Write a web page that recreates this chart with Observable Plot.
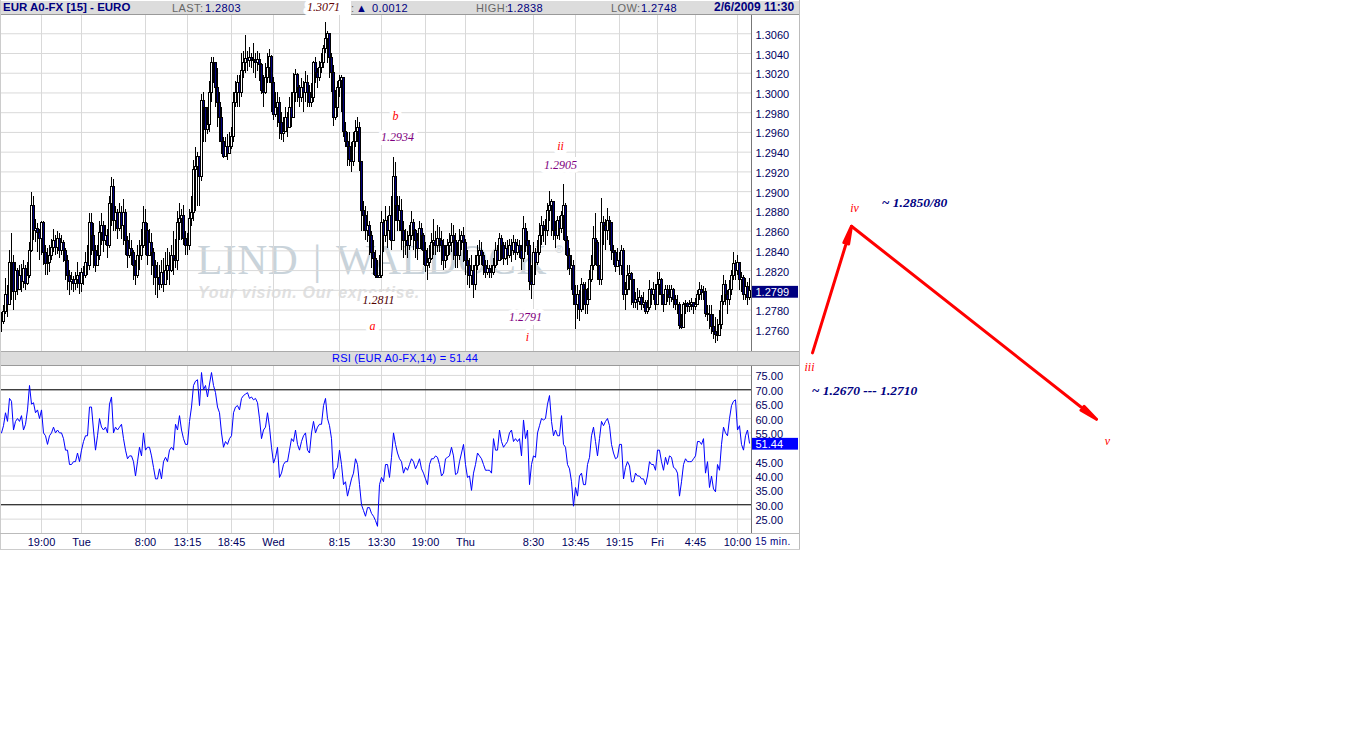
<!DOCTYPE html>
<html><head><meta charset="utf-8">
<script src="https://cdn.jsdelivr.net/npm/d3@7"></script>
<script src="https://cdn.jsdelivr.net/npm/@observablehq/plot@0.6"></script>
<style>
html,body{margin:0;padding:0;background:#fff;width:1346px;height:741px;overflow:hidden}
.a{position:absolute;white-space:nowrap;font-family:"Liberation Sans",Arial,sans-serif}
.band{position:absolute;left:1px;width:798px;background:#dcdcdc;border-bottom:1px solid #999}
.g{color:#666;font-size:11px;letter-spacing:.4px}.n{color:#000080;font-size:11px;letter-spacing:.4px}
.svgbox{position:absolute}
svg{background:transparent!important;display:block}
</style></head><body>
<div id="root"></div>
<script>
// Prices are pips above 1.2000 (803 = 1.2803); one candle per 15 minutes
const closePips=[768,778,795,785,828,828,798,820,800,815,
808,822,806,815,840,885,860,862,858,852,
868,838,827,828,835,843,850,843,852,840,
848,840,830,815,808,810,806,810,815,806,
818,815,828,825,868,855,840,825,835,858,
865,850,855,845,887,905,870,878,862,878,
865,878,850,835,842,838,825,815,835,835,
845,868,860,835,848,838,825,812,812,805,
818,805,820,825,820,835,832,830,868,872,
875,852,845,845,872,878,922,925,935,915,
992,985,962,968,1000,1030,1030,1005,990,975,
950,935,945,938,945,955,990,1000,1010,1000,
1022,1030,1034,1032,1035,1033,1032,1030,1033,1028,
1002,1000,1015,1025,1036,1010,978,985,990,970,
958,960,975,965,985,975,1000,1018,1005,995,
1005,1000,1010,1000,990,995,1030,1020,1015,1025,
1030,1045,1055,1060,1035,1020,975,985,1005,1012,
1015,960,950,945,932,930,950,960,965,930,
880,875,860,865,855,838,832,815,812,815,
868,855,870,860,875,850,915,885,870,880,
860,850,850,845,855,868,860,850,842,862,
855,840,825,828,832,848,850,845,852,850,
845,830,835,845,848,855,850,835,835,850,
855,848,830,825,815,820,805,825,835,840,
835,825,818,822,818,818,825,840,830,852,
845,832,842,835,845,840,848,838,845,840,
832,862,850,845,808,805,838,828,838,855,
865,862,860,880,885,890,860,855,870,862,
875,885,850,835,822,825,795,785,795,780,
805,800,785,790,810,825,852,848,825,810,
868,865,860,870,868,840,838,824,830,825,
840,795,800,815,817,810,787,790,788,792,
785,787,778,782,800,795,800,785,805,810,
795,785,800,795,792,800,790,785,785,764,
762,785,786,783,785,787,783,785,795,800,
797,798,776,775,775,763,758,755,754,765,
788,805,795,790,800,815,827,820,828,810,
812,795,803,792,799];
const highPips=[778,785,812,805,840,858,835,828,822,825,
826,830,825,828,848,899,895,872,868,862,
870,870,845,842,845,852,862,856,860,858,
856,850,842,835,820,818,814,818,828,818,
822,824,838,845,878,878,868,845,845,870,
878,870,866,862,895,914,912,885,882,888,
885,892,882,855,858,850,840,830,845,850,
862,885,882,868,862,858,842,830,828,825,
830,832,838,842,838,845,860,852,880,888,
882,886,860,858,882,895,932,945,940,935,
998,1000,985,985,1012,1036,1036,1030,1025,1000,
985,955,955,958,960,965,1000,1012,1018,1018,
1040,1042,1058,1042,1046,1040,1050,1040,1042,1040,
1030,1018,1030,1040,1044,1038,1016,1000,1000,995,
980,975,985,980,995,1000,1020,1024,1020,1008,
1015,1012,1022,1018,1008,1010,1032,1036,1025,1032,
1040,1048,1071,1062,1060,1040,1028,1002,1012,1018,
1018,1012,970,960,960,950,960,972,975,970,
930,890,885,880,870,860,850,840,830,835,
880,872,885,875,885,895,935,930,895,895,
892,870,862,860,866,880,872,862,858,870,
868,858,848,842,845,858,872,860,866,864,
860,852,845,852,858,868,866,858,848,862,
860,864,852,840,832,835,825,835,845,850,
848,838,830,830,825,825,832,848,845,858,
856,848,848,850,852,852,856,852,852,850,
845,875,868,860,850,825,848,842,850,868,
875,870,872,888,900,892,880,870,875,875,
880,907,888,855,842,835,830,805,805,800,
812,808,808,802,820,835,865,878,850,825,
893,875,872,883,875,868,845,840,842,838,
845,842,808,825,825,818,800,798,802,800,
795,798,790,790,810,802,808,806,818,818,
812,795,805,805,805,805,802,795,795,788,
775,788,790,788,790,792,788,792,800,808,
805,804,802,785,785,785,775,772,770,780,
795,815,810,800,810,820,838,830,835,825,
818,815,812,808,812];
const lowPips=[757,765,775,772,785,790,780,790,795,800,
798,802,800,805,812,838,850,848,838,830,
835,825,815,815,818,830,838,835,836,832,
835,828,810,800,795,800,798,800,802,796,
798,805,812,815,820,835,822,818,825,830,
845,838,845,832,842,865,860,860,852,860,
852,845,835,822,832,825,810,805,812,820,
830,842,835,825,835,815,805,795,792,800,
802,798,805,810,805,818,815,822,820,850,
850,845,835,835,840,865,870,880,885,885,
910,950,950,958,960,990,1010,985,965,950,
938,934,936,932,938,943,950,985,985,985,
995,1015,1020,1022,1026,1025,1020,1015,1022,1012,
998,985,998,1010,1010,980,972,975,965,953,
952,950,960,955,965,965,975,990,990,985,
990,980,990,985,985,985,990,1010,1005,1012,
1020,1025,1040,1030,1015,1000,966,972,975,995,
980,955,945,925,925,919,925,945,950,920,
860,860,850,848,835,822,815,812,812,812,
812,838,848,842,850,840,850,870,860,860,
840,832,835,832,840,850,840,832,830,842,
840,825,818,810,822,830,835,835,838,838,
825,820,822,830,835,838,830,822,822,830,
840,828,815,805,802,805,792,800,820,825,
825,815,812,815,812,812,815,822,825,830,
830,825,830,825,832,828,835,830,835,832,
820,828,838,835,800,791,815,815,825,835,
845,848,845,855,870,855,850,842,852,850,
858,850,835,820,815,800,785,760,770,768,
778,780,775,775,790,808,820,825,810,805,
805,845,840,850,845,830,825,818,825,815,
815,790,780,795,800,785,782,782,780,785,
780,782,775,776,780,785,790,780,785,795,
785,778,785,788,785,788,782,780,775,760,
760,762,775,778,778,780,776,780,785,790,
790,790,772,768,760,755,750,746,748,755,
760,785,785,775,785,795,810,810,815,800,
798,790,790,785,790];
const rsiValues=[55,57.5,62,59,67,66,56,59,60,59,
61,56,58,63,71.5,65,65.5,62,63,60,
63,55,54,51,54,55,57,55,56,55,
55,53,49,49,44,44,45,45,48,45,
49,52,54,54,64,64,56,49,54,60,
57,56,57,55,65,67.5,55,57,56,57,
58,53,49,46,47,47,45,40,45,50,
47,55,49,50,50,47,43,39,39,42.5,
39,45,46.5,45,49,50,49,58,56,61,
56,53,51,51,59,64,71.5,73,73.5,64.5,
76,70,71.5,67.5,72,76,71.5,69,64,62,
55,50,52,51,53,54,62,64,64.5,63,
67,68,68.5,69,67,67.5,66.5,67,65.5,60,
53,56,57,62,57,50,44.5,46.5,50,39.5,
41,44,45,45,49,53,52,56,51,49,
52,54,55,49,48,55,59,55,57,58,
58,64.5,67,60,57.5,53,39,42,43,49,
44,37,38,33,36,39,41,46,44,37,
30,28,26,29,29,27,26,24.5,22.5,37,
39.5,38,44,44,39.5,46.5,55,51,48,46,
45,41,43,42,44,46,45,42.5,44,46,
42.5,41,39,37,44,46,46,47,46.5,44,
40,41,46,46.5,47,50,47,40.5,41,45,
48,51,44,39.5,40,35,41,44,48,47,
46,44,42,42,42,41,53,49,49,56,
52,50,51,52,55,56,52,53,52,53,
47,59.5,53,56,37,44,47,46.5,55,57.5,
60,59.5,60,65,68,59,54,56,54,54,
61,51,50,44,42.5,38,29.5,36,33,40,
41,37,37,44,46.5,54,57,52,47,53,
59,57.5,59,60,57.5,51,48,46,46.5,51,
51,39,43,45,43.5,38,38,41,40,40,
39,39,37,40,45,44,44,42,49,49,
45,42,46.5,44,47,46.5,43,42.5,41,33,
38,44,46,45,45,45,46,47,52,52,
51,53,41,45,36,40,35.5,34.5,44,42,
51,57,55,54,60,64.5,66,66.5,56,57.5,
51,49,54,56,51.44];
const tickBars=[20.5,40.5,72.5,93.5,115.5,136.5,169.5,190.5,212.5,232.5,266.5,287.5,309.5,328.5,347.5,368.5];
const tickLabels=["19:00","Tue","8:00","13:15","18:45","Wed","8:15","13:30","19:00","Thu","8:30","13:45","19:15","Fri","4:45","10:00"];
const priceTicks=[1.276,1.278,1.28,1.282,1.284,1.286,1.288,1.29,1.292,1.294,1.296,1.298,1.3,1.302,1.304,1.306];
const priceLabelled=priceTicks.filter(t=>t!==1.28);
const rsiTicks=[25,30,35,40,45,50,55,60,65,70,75];
const rsiLabelled=rsiTicks.filter(t=>t!==50);
const rsiBands=[30,70];
const waveBars=[406,425.5,548];
const wavePrices=[1.27366,1.2865,1.26693];
const annotBar=[197.5,198.5,280,280,189,186,262.5,263.5,161.5,404.5,427,553.5,432,457];
const annotPrice=[1.2977,1.2955,1.2946,1.2927,1.2790,1.27635,1.27725,1.2753,1.3087,1.2722,1.2883,1.2647,1.26986,1.2889];
const annotText=["b","1.2934","ii","1.2905","1.2811","a","1.2791","i","1.3071","iii","iv","v","~ 1.2670 --- 1.2710","~ 1.2850/80"];
const annotColor=["#f00","#800080","#f00","#800080","#500000","#f00","#800080","#f00","#600000","#f00","#f00","#f00","#000080","#000080"];

const font='"Liberation Sans",Arial,sans-serif';
const serif='"Liberation Serif","Times New Roman",serif';
const root=document.getElementById("root");
function html(cls,css,text){const d=document.createElement("div");d.className=cls;d.style.cssText=css;d.textContent=text||"";root.appendChild(d);return d;}
function place(svg,top){const b=document.createElement("div");b.className="svgbox";b.style.left="0";b.style.top=top+"px";b.appendChild(svg);root.appendChild(b);}

// watermark sits beneath the chart
html("a","left:197px;top:236px;font:41.5px "+serif+";color:#c9d3da;letter-spacing:.5px;word-spacing:4px","LIND | WALDOCK");
html("a","left:555px;top:243px;font:11px "+font+";color:#c9d3da","®");
html("a","left:198px;top:284px;font:italic bold 16px "+font+";color:#e0e0e0;letter-spacing:.7px","Your vision. Our expertise.");

const bars=closePips.map((c,i)=>({i,open:1.2+(i?closePips[i-1]:c)/1e4,close:1.2+c/1e4,high:1.2+highPips[i]/1e4,low:1.2+lowPips[i]/1e4}));
const rsi=rsiValues.map((v,i)=>({i,v}));

const price=Plot.plot({width:800,height:336,marginLeft:0,marginRight:49,marginTop:0,marginBottom:0,
 x:{domain:[0,375.5],range:[0,751],axis:null},
 y:{domain:[1.2738,1.30785],range:[336,0]},
 style:{fontFamily:font,fontSize:"11px",color:"#000080"},
 marks:[
  Plot.ruleX(tickBars,{stroke:"#d9d9d9",strokeWidth:1}),
  Plot.ruleY(priceTicks,{x1:0.5,x2:375.5,stroke:"#d9d9d9",strokeWidth:1}),
  Plot.ruleX(bars,{x:d=>d.i+.5,y1:"low",y2:"high",stroke:"#000",strokeWidth:1,shapeRendering:"crispEdges"}),
  Plot.rect(bars,{x1:d=>d.i,x2:d=>d.i+1,y1:"open",y2:"close",fill:d=>d.close>=d.open?"#fff":"#000080",stroke:"#000",strokeWidth:1,shapeRendering:"crispEdges"}),
  Plot.ruleX([375.5],{stroke:"#777",strokeWidth:1}),
  Plot.axisY({anchor:"right",ticks:priceLabelled,tickSize:0,tickPadding:4,dy:1.5,tickFormat:".4f",label:null,fill:"#000060",fontSize:11}),
  Plot.rect([0],{x1:376,x2:399,y1:1.2792,y2:1.2804,fill:"#000080"}),
  Plot.text(["1.2799"],{x:377.5,y:1.2798,textAnchor:"start",fill:"#fff",fontSize:11})
 ]});

const rsiPlot=Plot.plot({width:800,height:184,marginLeft:0,marginRight:49,marginTop:0,marginBottom:16,
 x:{domain:[0,375.5],range:[0,751],axis:null},
 y:{domain:[20,78.45],range:[168,0]},
 style:{fontFamily:font,fontSize:"11px",color:"#000080"},
 marks:[
  Plot.ruleX(tickBars,{stroke:"#d9d9d9",strokeWidth:1}),
  Plot.ruleY(rsiTicks,{x1:0.5,x2:375.5,stroke:"#d9d9d9",strokeWidth:1}),
  Plot.ruleY(rsiBands,{x1:0.5,x2:375.5,stroke:"#000",strokeWidth:1}),
  Plot.line(rsi,{x:d=>d.i+.5,y:"v",stroke:"#0000ff",strokeWidth:1,curve:"linear"}),
  Plot.ruleX([375.5],{stroke:"#777",strokeWidth:1}),
  Plot.axisY({anchor:"right",ticks:rsiLabelled,tickSize:0,tickPadding:4,dy:1.5,tickFormat:".2f",label:null,fill:"#000060",fontSize:11}),
  Plot.rect([0],{x1:376,x2:399,y1:49.0,y2:53.1,fill:"#0000ff"}),
  Plot.text(["51.44"],{x:377.5,y:50.9,textAnchor:"start",fill:"#fff",fontSize:11}),
  Plot.axisX({ticks:tickBars,tickSize:0,tickPadding:5,tickFormat:(d,i)=>tickLabels[i],label:null,fill:"#000060",fontSize:11,anchor:"bottom"})
 ]});

const wave=waveBars.map((b,k)=>({b,p:wavePrices[k]}));
const segs=[{x1:wave[0].b,y1:wave[0].p,x2:wave[1].b,y2:wave[1].p},{x1:wave[1].b,y1:wave[1].p,x2:wave[2].b,y2:wave[2].p}];
const notes=annotText.map((t,k)=>({t,b:annotBar[k],p:annotPrice[k],c:annotColor[k],big:t[0]==="~"}));
const overlay=Plot.plot({width:1346,height:741,margin:0,
 x:{domain:[0,673],range:[0,1346],axis:null},
 y:{domain:[1.23427,1.30938],range:[741,0],axis:null},
 marks:[
  Plot.arrow(segs,{x1:"x1",y1:"y1",x2:"x2",y2:"y2",bend:0,stroke:"#f00",strokeWidth:3,headLength:9,headAngle:16}),
  Plot.text(notes.filter(d=>!d.big),{x:"b",y:"p",text:"t",fill:"c",stroke:"#fff",strokeWidth:8,fontFamily:serif,fontStyle:"italic",fontSize:12}),
  Plot.text(notes.filter(d=>d.big),{x:"b",y:"p",text:"t",fill:"c",fontFamily:serif,fontStyle:"italic",fontWeight:"bold",fontSize:13.5})
 ]});

place(price,15);place(rsiPlot,365);

// frame and title bands
html("band","top:1px;height:13px","");
html("band","top:351px;height:13px;border-top:1px solid #aaa","");
html("a","left:0;top:0;width:1px;height:549px;background:#ccc","");
html("a","left:799px;top:0;width:1px;height:550px;background:#bbb","");
html("a","left:0;top:533px;width:800px;height:1px;background:#bbb","");
html("a","left:0;top:549px;width:800px;height:1px;background:#ccc","");
html("a","left:307px;top:0;width:44px;height:15px;background:#fff","");
html("a","left:3px;top:0;font:bold 11.5px/15px "+font+";color:#000080","EUR A0-FX [15] - EURO");
html("a g","left:172px;top:2px","LAST:");
html("a n","left:205px;top:2px","1.2803");
html("a g","left:351px;top:2px",":");
html("a n","left:356px;top:2px","▲");
html("a n","left:372px;top:2px","0.0012");
html("a g","left:476px;top:2px","HIGH:");
html("a n","left:507px;top:2px","1.2838");
html("a g","left:611px;top:2px","LOW:");
html("a n","left:641px;top:2px","1.2748");
html("a","left:714px;top:0;font:bold 12px/15px "+font+";color:#000080","2/6/2009 11:30");
html("a","left:332px;top:351px;font:11px/14px "+font+";color:#0000ff;letter-spacing:.2px","RSI (EUR A0-FX,14) = 51.44");
html("a n","left:755px;top:536px;font-size:10px","15 min.");

place(overlay,0);
</script></body></html>
